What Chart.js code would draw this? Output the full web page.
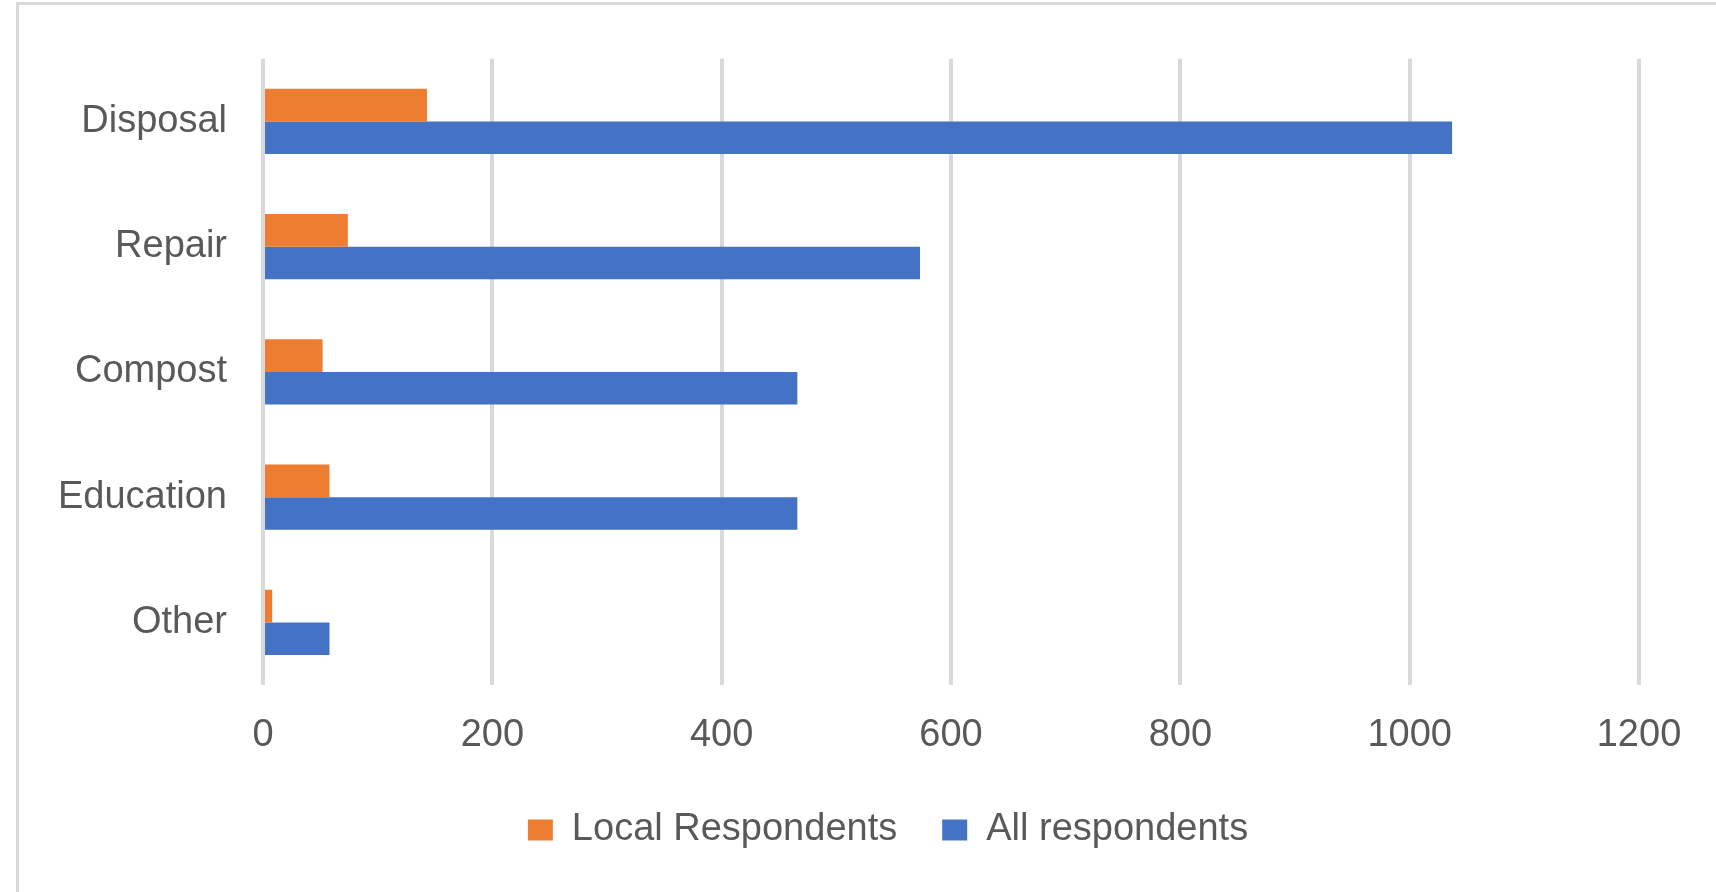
<!DOCTYPE html>
<html>
<head>
<meta charset="utf-8">
<script src="https://cdn.jsdelivr.net/npm/chart.js@4.4.0/dist/chart.umd.min.js"></script>
<style>
    body { margin: 0; background: #fff; overflow: hidden; }
    #frame { position: absolute; left: 16px; top: 2px; width: 1800px; height: 1000px;
             border-left: 3px solid #d9d9d9; border-top: 3px solid #d9d9d9; }
    #barChart { position: absolute; left: 17px; top: 0; }
</style>
</head>
<body>
<div id="frame"></div>
<canvas id="barChart" width="1742" height="859"></canvas>
<script>
const categories = ['Disposal', 'Repair', 'Compost', 'Education', 'Other'];
const localRespondents = [143, 74, 52, 58, 8];
const allRespondents = [1037, 573, 466, 466, 58];
const xTicks = [0, 200, 400, 600, 800, 1000, 1200];

const textColour = '#595959';
const labelFont = { family: 'Liberation Sans', size: 38 };

function createRespondentBars() {
    const barData = {
        labels: categories,
        datasets: [{
            label: 'Local Respondents',
            data: localRespondents,
            backgroundColor: '#ED7D31'
        }, {
            label: 'All respondents',
            data: allRespondents,
            backgroundColor: '#4472C4'
        }]
    };
    const barConfig = {
        type: 'bar',
        data: barData,
        options: {
            indexAxis: 'y',
            responsive: false,
            animation: false,
            categoryPercentage: 0.52,
            barPercentage: 1,
            layout: { padding: { top: 54, left: 0, right: 0, bottom: 0 } },
            scales: {
                x: {
                    min: 0,
                    max: 1200,
                    afterBuildTicks: scale => { scale.ticks = xTicks.map(v => ({ value: v })); },
                    afterFit: scale => { scale.height = 81; },
                    grid: { color: '#d9d9d9', lineWidth: 4, drawTicks: false },
                    border: { display: false },
                    ticks: {
                        color: textColour, font: labelFont, padding: 28, maxRotation: 0,
                        callback: value => String(value)
                    }
                },
                y: {
                    afterFit: scale => { scale.width = 246; },
                    grid: { display: false, drawTicks: false },
                    border: { display: false },
                    ticks: { color: textColour, font: labelFont, padding: 36 }
                },
                yRight: {
                    type: 'linear',
                    axis: 'y',
                    position: 'right',
                    afterFit: scale => { scale.width = 120; },
                    grid: { display: false, drawTicks: false },
                    border: { display: false },
                    ticks: { display: false }
                }
            },
            plugins: {
                legend: {
                    position: 'bottom',
                    labels: {
                        color: textColour,
                        font: labelFont,
                        boxWidth: 25,
                        boxHeight: 21,
                        padding: 45
                    }
                },
                tooltip: { enabled: false }
            }
        }
    };
    var respondentBars = new Chart(
        document.getElementById('barChart'),
        barConfig
    );
}

createRespondentBars();
</script>
</body>
</html>
